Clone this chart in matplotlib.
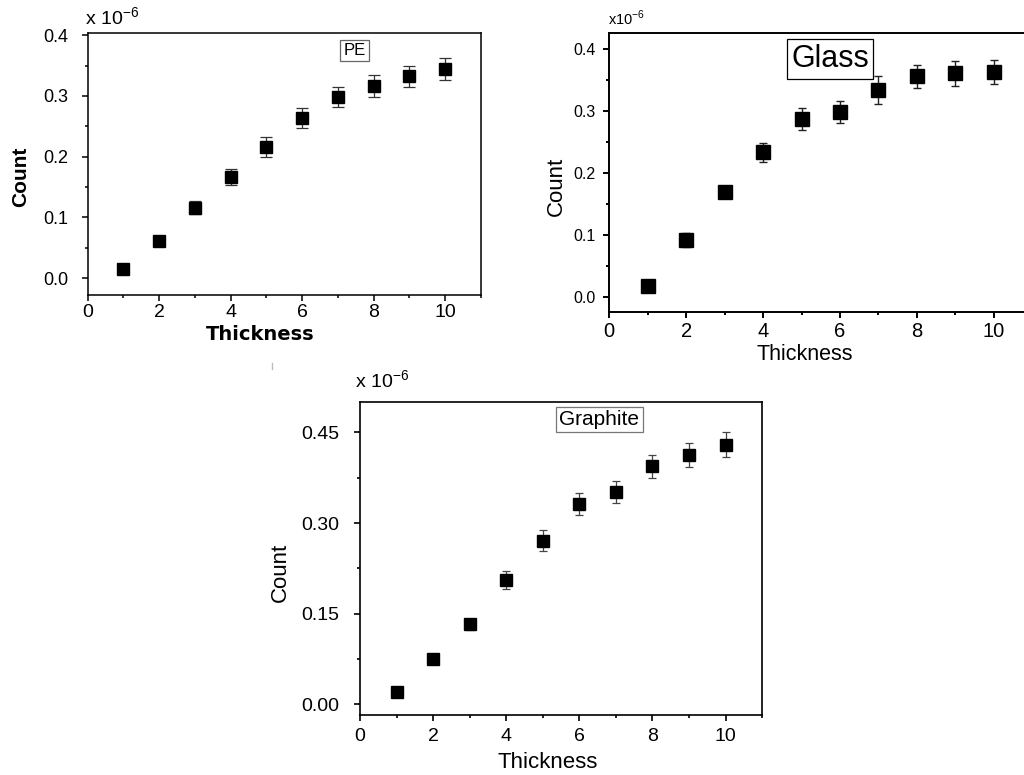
import numpy as np
import matplotlib
matplotlib.use("Agg")
import matplotlib.pyplot as plt
from matplotlib.ticker import MultipleLocator, FormatStrFormatter
from matplotlib.lines import Line2D

plt.rcParams['font.family'] = ['Liberation Sans', 'DejaVu Sans']
plt.rcParams['mathtext.fontset'] = 'custom'
plt.rcParams['mathtext.rm'] = 'Liberation Sans'

# Datos (Count en unidades de 1e-6)
thickness = [1, 2, 3, 4, 5, 6, 7, 8, 9, 10]

pe_count = [0.015, 0.062, 0.116, 0.167, 0.216, 0.264, 0.298, 0.317, 0.332, 0.345]
pe_err = [0.003, 0.008, 0.011, 0.013, 0.016, 0.016, 0.017, 0.018, 0.018, 0.018]

glass_count = [0.018, 0.092, 0.169, 0.233, 0.287, 0.298, 0.334, 0.356, 0.361, 0.363]
glass_err = [0.0, 0.011, 0.008, 0.016, 0.018, 0.018, 0.023, 0.019, 0.020, 0.020]

graphite_count = [0.020, 0.075, 0.132, 0.206, 0.271, 0.331, 0.351, 0.394, 0.413, 0.430]
graphite_err = [0.0, 0.003, 0.009, 0.015, 0.017, 0.018, 0.018, 0.019, 0.020, 0.021]

fig = plt.figure(figsize=(10.24, 7.75), dpi=100)

ax1 = fig.add_axes([0.0855, 0.619, 0.384, 0.338])
ax2 = fig.add_axes([0.595, 0.5974, 0.413, 0.360])
ax3 = fig.add_axes([0.3516, 0.0774, 0.3926, 0.4043])


def estilo(ax, ylim, ymajor, yminor, yfmt, tsize_x, tsize_y, padx, pady, lw):
    ax.set_xlim(0, 11)
    ax.set_ylim(*ylim)
    ax.xaxis.set_major_locator(MultipleLocator(2))
    ax.xaxis.set_minor_locator(MultipleLocator(1))
    ax.yaxis.set_major_locator(MultipleLocator(ymajor))
    ax.yaxis.set_minor_locator(MultipleLocator(yminor))
    ax.yaxis.set_major_formatter(FormatStrFormatter(yfmt))
    ax.tick_params(which='both', direction='out', top=False, right=False, width=lw)
    ax.tick_params(which='major', length=4)
    ax.tick_params(which='minor', length=2.5)
    ax.tick_params(axis='x', labelsize=tsize_x, pad=padx)
    ax.tick_params(axis='y', labelsize=tsize_y, pad=pady)
    for s in ax.spines.values():
        s.set_linewidth(lw)


# PE
ax1.errorbar(thickness, pe_count, yerr=pe_err, fmt='s', color='black', ms=8.5,
             ecolor='#333333', elinewidth=0.9, capsize=4, capthick=0.9)
estilo(ax1, (-0.028, 0.403), 0.1, 0.05, '%.1f', 14, 13, 2, 10, 1.1)
ax1.set_ylabel('Count', fontsize=15, fontweight='bold', va='center')
ax1.yaxis.set_label_coords(-0.169, 0.454)
ax1.set_xlabel('Thickness', fontsize=14, fontweight='bold', va='center',
               family='DejaVu Sans')
ax1.xaxis.set_label_coords(0.438, -0.149)
ax1.text(-0.006, 1.015, r'x 10$^{-6}$', transform=ax1.transAxes, fontsize=14,
         ha='left', va='bottom')
ax1.text(7.48, 0.375, 'PE', fontsize=12, ha='center', va='center', zorder=5,
         bbox=dict(boxstyle='square,pad=0.2', fc='white', ec='#666666', lw=0.9))

# Glass
ax2.errorbar(thickness, glass_count, yerr=glass_err, fmt='s', color='black', ms=9.5,
             ecolor='#222222', elinewidth=1.0, capsize=3, capthick=1.0)
estilo(ax2, (-0.0247, 0.426), 0.1, 0.05, '%.1f', 14.5, 11.5, 3, 6, 1.4)
ax2.set_ylabel('Count', fontsize=16, va='center')
ax2.yaxis.set_label_coords(-0.124, 0.452)
ax2.set_xlabel('Thickness', fontsize=15.5, va='center')
ax2.xaxis.set_label_coords(0.463, -0.152)
ax2.text(-0.003, 1.018, r'x10$^{-6}$', transform=ax2.transAxes, fontsize=10.5,
         ha='left', va='bottom')
ax2.text(5.74, 0.384, 'Glass', fontsize=22, ha='center', va='center', zorder=5,
         bbox=dict(boxstyle='square,pad=0.15', fc='white', ec='black', lw=0.9))

# Graphite
ax3.errorbar(thickness, graphite_count, yerr=graphite_err, fmt='s', color='black', ms=9,
             ecolor='#444444', elinewidth=0.9, capsize=3, capthick=0.9)
estilo(ax3, (-0.018, 0.501), 0.15, 0.075, '%.2f', 14, 14, 5, 11, 1.2)
ax3.set_ylabel('Count', fontsize=16, va='center')
ax3.yaxis.set_label_coords(-0.197, 0.456)
ax3.set_xlabel('Thickness', fontsize=16, va='center')
ax3.xaxis.set_label_coords(0.467, -0.152)
ax3.text(-0.012, 1.031, r'x 10$^{-6}$', transform=ax3.transAxes, fontsize=14,
         ha='left', va='bottom')
ax3.text(6.55, 0.471, 'Graphite', fontsize=15, ha='center', va='center', zorder=5,
         bbox=dict(boxstyle='square,pad=0.15', fc='white', ec='#777777', lw=0.9))

# marca suelta de la imagen original
fig.add_artist(Line2D([272 / 1024, 272 / 1024], [1 - 363 / 775, 1 - 369 / 775],
                      color='#bbbbbb', lw=1))

fig.savefig('out.png', dpi=100)
